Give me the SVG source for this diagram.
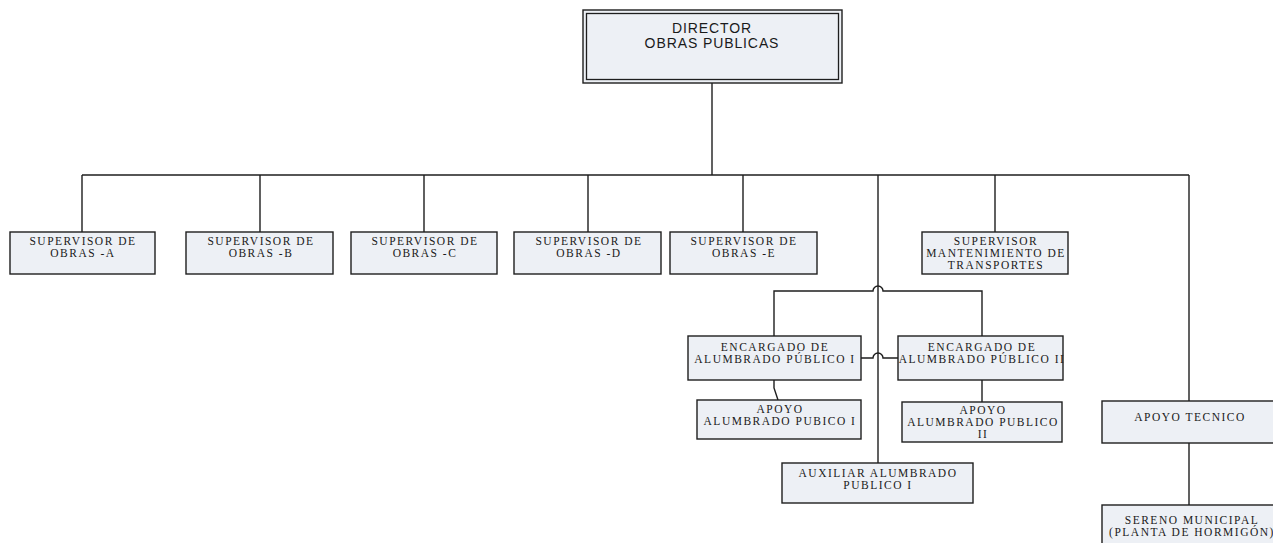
<svg xmlns="http://www.w3.org/2000/svg" width="1273" height="543" viewBox="0 0 1273 543">
  <style>
    .box { fill: #edf0f5; stroke: #1e1e1e; stroke-width: 1.4; }
    .wire { fill: none; stroke: #1e1e1e; stroke-width: 1.4; }
    .t { font-family: "Liberation Serif", "Times New Roman", serif; font-size: 11.5px; letter-spacing: 1.5px; fill: #1a1a1a; text-anchor: middle; }
    .ts { font-family: "Liberation Sans", Arial, sans-serif; font-size: 14px; letter-spacing: 0.9px; fill: #1a1a1a; text-anchor: middle; }
  </style>
  <rect width="1273" height="543" fill="#ffffff"/>

  <!-- connectors -->
  <g id="connectors">
    <path class="wire" d="M712,83 V175" stroke-width="2"/>
    <path class="wire" d="M82,175 H1189" stroke-width="1.6"/>
    <path class="wire" d="M82,175 V232 M260,175 V232 M424,175 V232 M588,175 V232 M743,175 V232 M995,175 V232"/>
    <path class="wire" d="M878,175 V463"/>
    <path class="wire" d="M1189,175 V401"/>
    <path class="wire" d="M1189,443 V505"/>
    <path class="wire" d="M774,336 V291 H873 A5,5 0 0 1 883,291 H982 V336"/>
    <path class="wire" d="M861,358 H873 A5,5 0 0 1 883,358 H898"/>
    <path class="wire" d="M774,380 V388 L778,400"/>
    <path class="wire" d="M982,380 V402"/>
  </g>

  <!-- director -->
  <g id="director">
    <rect class="box" x="583" y="10" width="259" height="73" stroke-width="1.6"/>
    <rect x="586.5" y="13.5" width="252" height="66" fill="none" stroke="#1e1e1e" stroke-width="1.3"/>
    <text class="ts" x="712" y="33">DIRECTOR</text>
    <text class="ts" x="712" y="48">OBRAS PUBLICAS</text>
  </g>

  <g id="sup-a">
    <rect class="box" x="10" y="232" width="145" height="42"/>
    <text class="t" x="83" y="245">SUPERVISOR DE</text>
    <text class="t" x="83" y="257">OBRAS -A</text>
  </g>
  <g id="sup-b">
    <rect class="box" x="186" y="232" width="147" height="42"/>
    <text class="t" x="261" y="245">SUPERVISOR DE</text>
    <text class="t" x="261" y="257">OBRAS -B</text>
  </g>
  <g id="sup-c">
    <rect class="box" x="351" y="232" width="146" height="42"/>
    <text class="t" x="425" y="245">SUPERVISOR DE</text>
    <text class="t" x="425" y="257">OBRAS -C</text>
  </g>
  <g id="sup-d">
    <rect class="box" x="514" y="232" width="147" height="42"/>
    <text class="t" x="589" y="245">SUPERVISOR DE</text>
    <text class="t" x="589" y="257">OBRAS -D</text>
  </g>
  <g id="sup-e">
    <rect class="box" x="670" y="232" width="147" height="42"/>
    <text class="t" x="744" y="245">SUPERVISOR DE</text>
    <text class="t" x="744" y="257">OBRAS -E</text>
  </g>
  <g id="sup-transportes">
    <rect class="box" x="922" y="232" width="146" height="42"/>
    <text class="t" x="996" y="245">SUPERVISOR</text>
    <text class="t" x="996" y="257">MANTENIMIENTO DE</text>
    <text class="t" x="996" y="269">TRANSPORTES</text>
  </g>

  <g id="encargado-1">
    <rect class="box" x="688" y="336" width="173" height="44"/>
    <text class="t" x="775" y="351">ENCARGADO DE</text>
    <text class="t" x="775" y="363">ALUMBRADO PÚBLICO I</text>
  </g>
  <g id="encargado-2">
    <rect class="box" x="898" y="336" width="165" height="44"/>
    <text class="t" x="982" y="351">ENCARGADO DE</text>
    <text class="t" x="982" y="363">ALUMBRADO PÚBLICO II</text>
  </g>
  <g id="apoyo-1">
    <rect class="box" x="697" y="400" width="164" height="39"/>
    <text class="t" x="780" y="413">APOYO</text>
    <text class="t" x="780" y="425">ALUMBRADO PUBICO I</text>
  </g>
  <g id="apoyo-2">
    <rect class="box" x="902" y="402" width="160" height="40"/>
    <text class="t" x="983" y="414">APOYO</text>
    <text class="t" x="983" y="426">ALUMBRADO PUBLICO</text>
    <text class="t" x="983" y="438">II</text>
  </g>
  <g id="auxiliar">
    <rect class="box" x="782" y="463" width="191" height="40"/>
    <text class="t" x="878" y="477">AUXILIAR ALUMBRADO</text>
    <text class="t" x="878" y="489">PUBLICO I</text>
  </g>
  <g id="apoyo-tecnico">
    <rect class="box" x="1102" y="401" width="175" height="42"/>
    <text class="t" x="1190" y="421">APOYO TECNICO</text>
  </g>
  <g id="sereno">
    <rect class="box" x="1102" y="505" width="175" height="45"/>
    <text class="t" x="1192" y="524">SERENO MUNICIPAL</text>
    <text class="t" x="1192" y="536">(PLANTA DE HORMIGÓN)</text>
  </g>
</svg>
